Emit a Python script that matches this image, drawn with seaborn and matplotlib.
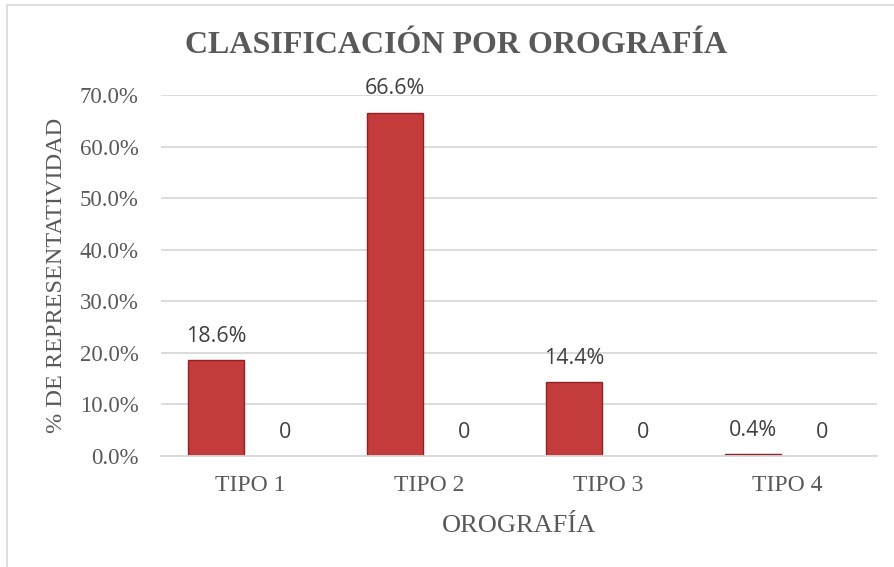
import matplotlib.pyplot as plt
import seaborn as sns
import pandas as pd
from matplotlib.patches import Rectangle

# DATA
tipos = ['TIPO 1', 'TIPO 2', 'TIPO 3', 'TIPO 4']
serie_1 = [0.186, 0.666, 0.144, 0.004]
serie_2 = [0, 0, 0, 0]
y_ticks = [0.0, 0.1, 0.2, 0.3, 0.4, 0.5, 0.6, 0.7]

df = pd.DataFrame({
    'tipo': tipos * 2,
    'serie': ['Serie 1'] * len(tipos) + ['Serie 2'] * len(tipos),
    'valor': serie_1 + serie_2,
})

sns.set_theme(style='white')
plt.rcParams['font.family'] = ['Liberation Serif', 'DejaVu Serif']

GRAY = '#595959'
GRID = '#D9D9D9'

fig = plt.figure(figsize=(8.95, 5.67), dpi=100)
ax = fig.add_axes([161 / 895, 1 - 456 / 567, 716 / 895, 361 / 567])

sns.barplot(data=df, x='tipo', y='valor', hue='serie', ax=ax,
            palette=['#C43B3B', '#C43B3B'], width=0.772, gap=0.2,
            legend=False, saturation=1)

# bar styling: darker edge on first series, nothing on the zero series
for patch in ax.containers[0]:
    patch.set_edgecolor('#8E2326')
    patch.set_linewidth(1)
for patch in ax.containers[1]:
    patch.set_linewidth(0)

# data labels
lbl_font = dict(family='Open Sans', size=15.5, color='#404040')
ax.bar_label(ax.containers[0], labels=[f'{v:.1%}' for v in serie_1],
             padding=9.5, **lbl_font)
ax.bar_label(ax.containers[1], labels=[f'{v:g}' for v in serie_2],
             padding=9.5, **lbl_font)

# axes
ax.set_ylim(0, 0.7)
ax.set_yticks(y_ticks)
ax.set_yticklabels([f'{t:.1%}' for t in y_ticks])
ax.yaxis.grid(True, color=GRID, linewidth=1.3)
ax.set_axisbelow(True)
for s in ['top', 'right', 'left']:
    ax.spines[s].set_visible(False)
ax.spines['bottom'].set_color(GRID)
ax.spines['bottom'].set_linewidth(1.3)
ax.tick_params(axis='y', length=0, pad=16, labelsize=16.5, labelcolor=GRAY)
ax.tick_params(axis='x', length=0, pad=14, labelsize=17, labelcolor=GRAY)

ax.set_xlabel('OROGRAFÍA', fontsize=19, color=GRAY, labelpad=13)
ax.set_ylabel('% DE REPRESENTATIVIDAD', fontsize=17.5, color=GRAY, labelpad=9)

fig.text(0.51, 1 - 53 / 567, 'CLASIFICACIÓN POR OROGRAFÍA', ha='center',
         va='baseline', fontsize=23, fontweight='bold', color=GRAY)

# chart frame
fig.patches.append(Rectangle((7 / 895, -0.05), 1.2, 1 - 5 / 567 + 0.05,
                             transform=fig.transFigure, fill=False,
                             edgecolor=GRID, linewidth=1.2))

fig.savefig('out.png', dpi=100)
